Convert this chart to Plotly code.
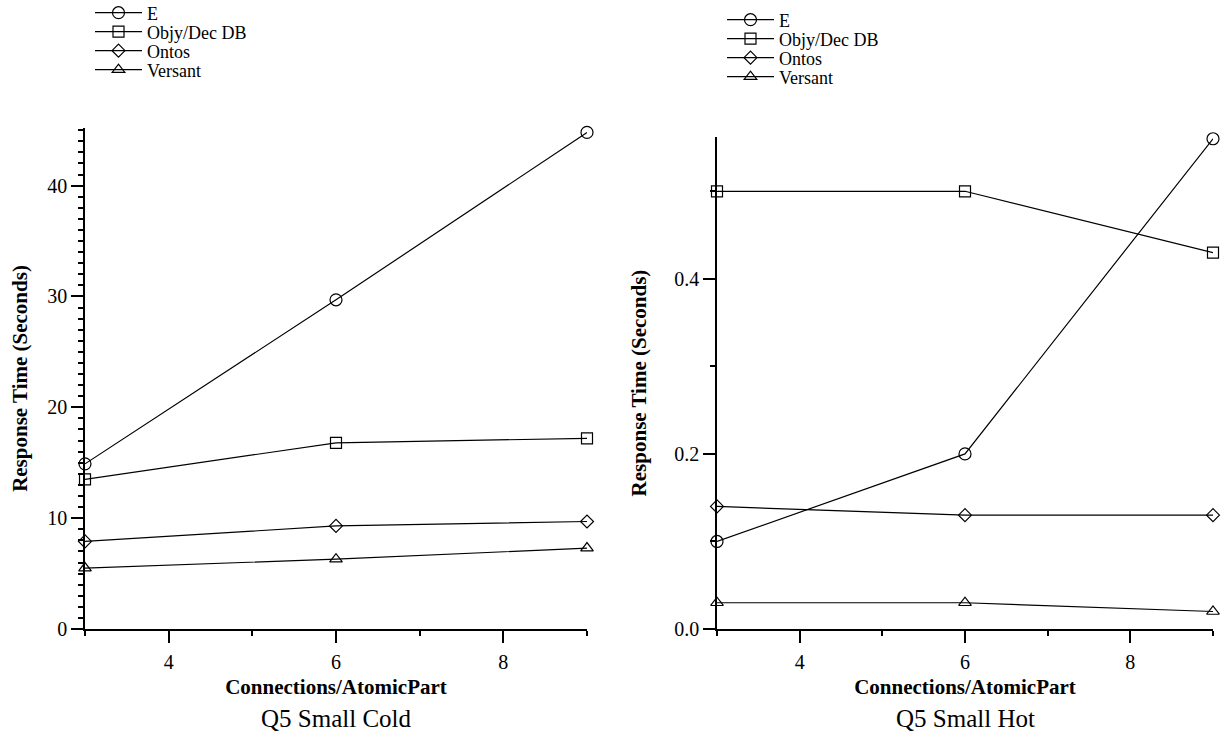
import plotly.graph_objects as go

x_conn = [3, 6, 9]
series_names = ["E", "Objy/Dec DB", "Ontos", "Versant"]
symbols = ["circle-open", "square-open", "diamond-open", "triangle-up-open"]
marker_sizes = [12, 11, 10, 11]

cold_E = [14.9, 29.7, 44.8]
cold_Objy = [13.5, 16.8, 17.2]
cold_Ontos = [7.9, 9.3, 9.7]
cold_Versant = [5.5, 6.3, 7.3]

hot_E = [0.10, 0.20, 0.56]
hot_Objy = [0.50, 0.50, 0.43]
hot_Ontos = [0.14, 0.13, 0.13]
hot_Versant = [0.03, 0.03, 0.02]

cold_vals = [cold_E, cold_Objy, cold_Ontos, cold_Versant]
hot_vals = [hot_E, hot_Objy, hot_Ontos, hot_Versant]

FONT = "Liberation Serif"
W, H = 1221, 745

def px_x(p):
    return p / W

def px_y(p):
    return 1 - p / H

fig = go.Figure()
legend_layout = {}
left_rows = [13, 32, 51, 70]
right_rows = [20, 39, 58, 77]
idx = 1
for panel, vals_list, rows, lx, xa, ya in [
    ("cold", cold_vals, left_rows, 90, "x", "y"),
    ("hot", hot_vals, right_rows, 722, "x2", "y2"),
]:
    for name, sym, ms, vals, ry in zip(series_names, symbols, marker_sizes, vals_list, rows):
        lname = "legend" if idx == 1 else f"legend{idx}"
        fig.add_trace(go.Scatter(
            x=x_conn, y=vals, name=name, mode="lines+markers",
            line=dict(color="black", width=1.2),
            marker=dict(symbol=sym, size=ms, color="black", line=dict(width=1.2, color="black")),
            xaxis=xa, yaxis=ya, legend=lname, cliponaxis=False))
        legend_layout[lname] = dict(
            x=px_x(lx), y=px_y(ry), xanchor="left", yanchor="middle",
            bgcolor="rgba(0,0,0,0)", borderwidth=0,
            font=dict(family=FONT, size=18, color="black"), itemwidth=47)
        idx += 1

axis_common = dict(
    showgrid=False, zeroline=False, showline=True, linecolor="black", linewidth=1.5,
    ticks="outside", ticklen=12, tickwidth=1.5, tickcolor="black",
    tickfont=dict(family=FONT, size=20, color="black"), automargin=False,
)
minor_common = dict(ticklen=5, ticks="outside", tickcolor="black", tickwidth=1.5)
title_font = dict(family=FONT, size=21, color="black")

xax = dict(axis_common, range=[3, 9], dtick=2, tick0=0, ticklabelstandoff=2,
           minor=dict(minor_common, dtick=1),
           title=dict(text="<b>Connections/AtomicPart</b>", font=title_font, standoff=8))

fig.update_layout(
    width=W, height=H,
    margin=dict(l=0, r=0, t=0, b=0, autoexpand=False),
    paper_bgcolor="white", plot_bgcolor="white",
    font=dict(family=FONT, color="black"),
    xaxis=dict(xax, domain=[px_x(85), px_x(587)], anchor="y"),
    xaxis2=dict(xax, domain=[px_x(717), px_x(1213)], anchor="y2"),
    yaxis=dict(axis_common, domain=[px_y(629), px_y(128)], range=[0, 45.2], dtick=10, anchor="x",
               minor=dict(minor_common, dtick=1),
               title=dict(text="<b>Response Time (Seconds)</b>", font=title_font, standoff=14)),
    yaxis2=dict(axis_common, domain=[px_y(629), px_y(137)], range=[0, 0.562], dtick=0.2, tickformat=".1f", anchor="x2",
                minor=dict(minor_common, dtick=0.1),
                title=dict(text="<b>Response Time (Seconds)</b>", font=title_font, standoff=22)),
    showlegend=True,
    annotations=[
        dict(text="Q5 Small Cold", x=(px_x(85) + px_x(587)) / 2, y=px_y(718), xref="paper", yref="paper",
             showarrow=False, font=dict(family=FONT, size=25, color="black"), xanchor="center", yanchor="middle"),
        dict(text="Q5 Small Hot", x=(px_x(717) + px_x(1213)) / 2, y=px_y(718), xref="paper", yref="paper",
             showarrow=False, font=dict(family=FONT, size=25, color="black"), xanchor="center", yanchor="middle"),
    ],
    **legend_layout,
)

fig.write_html("out.html", config={"displayModeBar": False},
               post_script="document.body.style.margin='0px';")
